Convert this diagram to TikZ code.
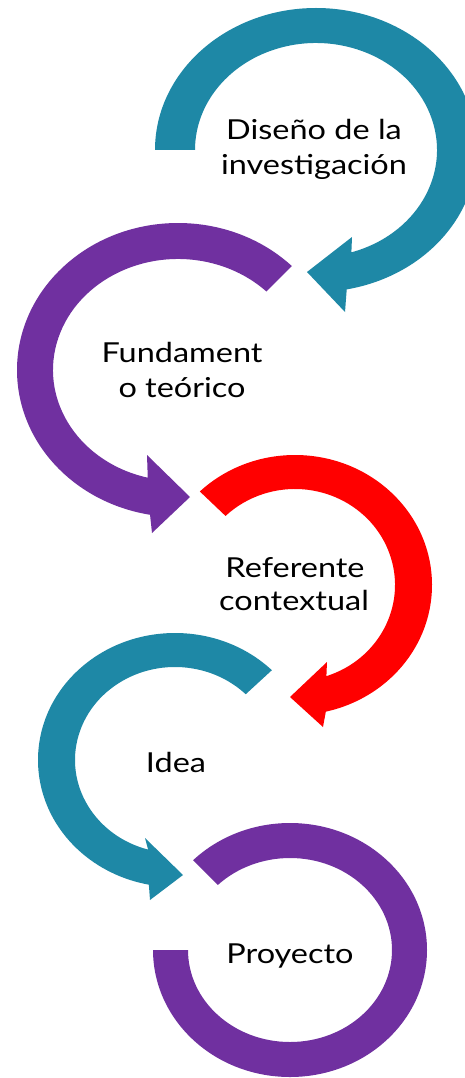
\documentclass[tikz,border=0pt]{standalone}
\usepackage{fontspec}
\setmainfont{Lato}
\usetikzlibrary{calc}
\definecolor{cteal}{RGB}{30,136,166}
\definecolor{cpurple}{RGB}{112,48,160}
\definecolor{cred}{RGB}{255,0,0}
\newcommand\widetext[1]{\scalebox{1.18}[1]{#1}}
\tikzset{
  lbl/.style={anchor=base, inner sep=0pt, font=\fontsize{27.5}{35}\selectfont, text=black}
}
\begin{document}
\begin{tikzpicture}[x=1pt,y=-1pt]
\useasboundingbox (0,0) rectangle (464,1078);
\fill[white] (0,0) rectangle (464,1078);
% 1 teal top
\coordinate (c1) at (316,150);
\fill[cteal] ($(c1)+(180:161 and 142)$) arc[start angle=180,end angle=439,x radius=161,y radius=142]
  -- (345,312) -- (307,272) -- (352,237)
  -- ($(c1)+(433:121 and 107)$) arc[start angle=433,end angle=180,x radius=121,y radius=107] -- cycle;
% 2 purple
\coordinate (c2) at (178,370);
\fill[cpurple] ($(c2)+(-45:161 and 147)$) arc[start angle=-45,end angle=-260,x radius=161,y radius=147]
  -- (152,533) -- (190,497) -- (147,455)
  -- ($(c2)+(-256:125 and 111)$) arc[start angle=-256,end angle=-45,x radius=125,y radius=111] -- cycle;
% 3 red
\coordinate (c3) at (295,585);
\fill[cred] ($(c3)+(-134:137 and 130)$) arc[start angle=-134,end angle=77,x radius=137,y radius=130]
  -- (323,727) -- (290,697) -- (327,662)
  -- ($(c3)+(71.7:100 and 96)$) arc[start angle=71.7,end angle=-134,x radius=100,y radius=96] -- cycle;
% 4 teal idea
\coordinate (c4) at (175,760);
\fill[cteal] ($(c4)+(-45:137 and 127)$) arc[start angle=-45,end angle=-259,x radius=137,y radius=127]
  -- (150,900) -- (183,875) -- (145,838)
  -- ($(c4)+(-254.4:100 and 93)$) arc[start angle=-254.4,end angle=-45,x radius=100,y radius=93] -- cycle;
% 5 purple bottom
\coordinate (c5) at (290,950);
\fill[cpurple] ($(c5)+(-135:137 and 127)$) arc[start angle=-135,end angle=180,x radius=137,y radius=127]
  -- ($(c5)+(180:102 and 92)$) arc[start angle=180,end angle=-135,x radius=102,y radius=92] -- cycle;
% labels
\node[lbl] (t1a) at (314,140) {\widetext{Diseño de la}};
\node[lbl] (t1b) at (314,175) {\widetext{investigación}};
\node[lbl] (t2a) at (182,362) {\widetext{Fundament}};
\node[lbl] (t2b) at (182,397) {\widetext{o teórico}};
\node[lbl] (t3a) at (295,577) {\widetext{Referente}};
\node[lbl] (t3b) at (294,610) {\widetext{contextual}};
\node[lbl] (t4) at (176,772) {\widetext{Idea}};
\node[lbl] (t5) at (290,963) {\widetext{Proyecto}};
\end{tikzpicture}
\end{document}
